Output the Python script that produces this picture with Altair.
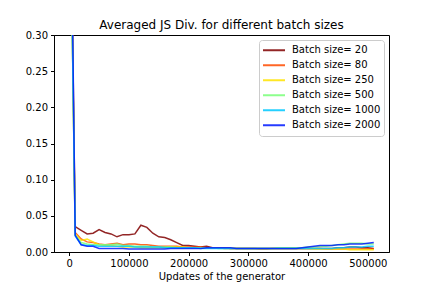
import altair as alt
import pandas as pd

updates = [i * 10000 for i in range(52)]

batch_sizes = [20, 80, 250, 500, 1000, 2000]

js_20 = [0.65, 0.035, 0.030, 0.025, 0.026, 0.031, 0.027, 0.025, 0.021, 0.024, 0.024,
         0.025, 0.037, 0.034, 0.026, 0.021, 0.020, 0.017, 0.013, 0.009, 0.009,
         0.008, 0.007, 0.008, 0.006, 0.006, 0.006, 0.005, 0.005, 0.005, 0.005,
         0.005, 0.005, 0.005, 0.005, 0.005, 0.005, 0.005, 0.005, 0.005, 0.005,
         0.005, 0.005, 0.005, 0.005, 0.006, 0.006, 0.007, 0.007, 0.006, 0.006, 0.005]
js_80 = [0.6, 0.027, 0.018, 0.014, 0.013, 0.011, 0.010, 0.011, 0.012, 0.010, 0.011,
         0.011, 0.010, 0.010, 0.009, 0.008, 0.008, 0.008, 0.008, 0.007, 0.007,
         0.007, 0.007, 0.006, 0.006, 0.006, 0.005, 0.005, 0.005, 0.005, 0.005,
         0.005, 0.004, 0.004, 0.005, 0.005, 0.005, 0.005, 0.005, 0.005, 0.005,
         0.005, 0.005, 0.004, 0.004, 0.004, 0.004, 0.004, 0.004, 0.004, 0.004, 0.004]
js_250 = [0.6, 0.025, 0.016, 0.018, 0.014, 0.010, 0.009, 0.009, 0.008, 0.007, 0.007,
          0.007, 0.006, 0.006, 0.006, 0.006, 0.006, 0.007, 0.007, 0.007, 0.006,
          0.006, 0.006, 0.006, 0.006, 0.006, 0.006, 0.006, 0.005, 0.005, 0.005,
          0.005, 0.005, 0.005, 0.005, 0.005, 0.005, 0.005, 0.005, 0.005, 0.005,
          0.004, 0.004, 0.004, 0.004, 0.004, 0.004, 0.003, 0.003, 0.003, 0.003, 0.003]
js_500 = [0.6, 0.024, 0.013, 0.011, 0.010, 0.010, 0.010, 0.010, 0.011, 0.009, 0.009,
          0.008, 0.008, 0.008, 0.007, 0.007, 0.007, 0.007, 0.006, 0.006, 0.006,
          0.006, 0.006, 0.006, 0.006, 0.005, 0.005, 0.005, 0.005, 0.005, 0.005,
          0.005, 0.005, 0.005, 0.005, 0.006, 0.006, 0.006, 0.006, 0.006, 0.007,
          0.007, 0.008, 0.008, 0.009, 0.010, 0.011, 0.012, 0.012, 0.012, 0.011, 0.011]
js_1000 = [0.6, 0.022, 0.010, 0.009, 0.009, 0.008, 0.008, 0.008, 0.008, 0.008, 0.008,
           0.007, 0.007, 0.007, 0.007, 0.007, 0.006, 0.006, 0.006, 0.006, 0.006,
           0.006, 0.005, 0.005, 0.005, 0.005, 0.005, 0.005, 0.005, 0.005, 0.005,
           0.005, 0.005, 0.005, 0.005, 0.005, 0.005, 0.005, 0.005, 0.005, 0.005,
           0.005, 0.005, 0.005, 0.005, 0.006, 0.006, 0.007, 0.007, 0.007, 0.008, 0.008]
js_2000 = [0.7, 0.023, 0.010, 0.008, 0.008, 0.005, 0.005, 0.005, 0.005, 0.005, 0.004,
           0.004, 0.004, 0.004, 0.004, 0.004, 0.004, 0.005, 0.005, 0.005, 0.005,
           0.005, 0.005, 0.006, 0.006, 0.006, 0.006, 0.006, 0.005, 0.005, 0.005,
           0.005, 0.005, 0.005, 0.005, 0.005, 0.005, 0.005, 0.005, 0.006, 0.007,
           0.008, 0.009, 0.009, 0.009, 0.010, 0.010, 0.011, 0.011, 0.011, 0.012, 0.013]

series = [js_20, js_80, js_250, js_500, js_1000, js_2000]
colors = ["#800000", "#ff4c00", "#ffe300", "#7aff7a", "#00c8ff", "#001aff"]

labels = [f"Batch size= {b}" for b in batch_sizes]

rows = []
for lab, vals in zip(labels, series):
    for x, v in zip(updates, vals):
        rows.append({"updates": x, "js": v, "series": lab})
df = pd.DataFrame(rows)

font = "DejaVu Sans"

chart = alt.Chart(df).mark_line(clip=True, strokeWidth=1.5, opacity=0.85).encode(
    x=alt.X("updates:Q",
            scale=alt.Scale(domain=[-25500, 535500], nice=False, zero=False),
            axis=alt.Axis(title="Updates of the generator", values=[0, 100000, 200000, 300000, 400000, 500000],
                          format="d", grid=False, tickSize=3.5, labelPadding=3,
                          titlePadding=3)),
    y=alt.Y("js:Q",
            scale=alt.Scale(domain=[0, 0.30], nice=False),
            axis=alt.Axis(title=None, values=[0, 0.05, 0.10, 0.15, 0.20, 0.25, 0.30],
                          format=".2f", grid=False, tickSize=3.5, labelPadding=3)),
    color=alt.Color("series:N",
                    scale=alt.Scale(domain=labels, range=colors),
                    legend=alt.Legend(title=None, orient="top-right", offset=5,
                                      symbolType="stroke", symbolSize=484, symbolStrokeWidth=2,
                                      clipHeight=14.5, rowPadding=0, padding=3,
                                      labelFontSize=10, labelFont=font, labelColor="black",
                                      labelOffset=6,
                                      strokeColor="#cccccc", fillColor="white",
                                      cornerRadius=3)),
    order=alt.Order("series:N"),
).properties(
    width=335,
    height=217,
    title=alt.TitleParams("Averaged JS Div. for different batch sizes", fontSize=12,
                          font=font, fontWeight="normal", color="black", offset=-2),
    autosize=alt.AutoSizeParams(type="none"),
    padding={"left": 46, "top": 27, "right": 30, "bottom": 30},
).configure_view(
    stroke="black", strokeWidth=1
).configure_axis(
    domainColor="black", tickColor="black", labelColor="black", titleColor="black",
    labelFont=font, titleFont=font, labelFontSize=10, titleFontSize=10,
    titleFontWeight="normal", domainWidth=1, tickWidth=1
)

chart.save("out.html", embed_options={"renderer": "svg", "actions": False})
